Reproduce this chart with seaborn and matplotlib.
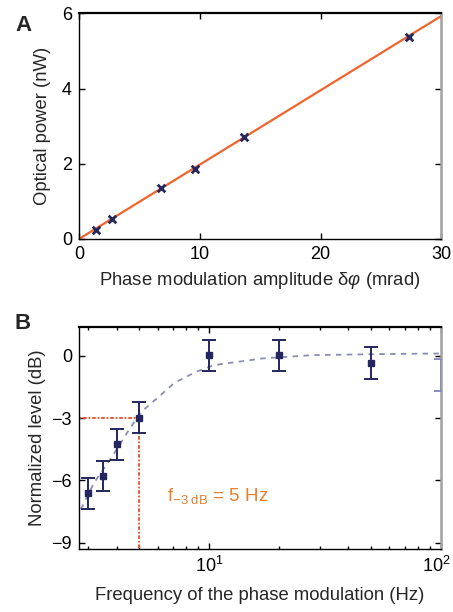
import matplotlib
matplotlib.use('Agg')
import matplotlib.pyplot as plt
import matplotlib.ticker as mticker
import matplotlib.transforms as mtransforms
import numpy as np
import pandas as pd
import seaborn as sns

# panel A: optical power vs phase modulation amplitude
amp_mrad = [1.4, 2.7, 6.8, 9.6, 13.7, 27.3]
power_nw = [0.25, 0.52, 1.36, 1.86, 2.72, 5.38]
fit_amp = [0, 30]
fit_power = [0, 5.93]

# panel B: normalized level vs modulation frequency
freq_hz = [3.0, 3.5, 4.0, 5.0, 10, 20, 50, 100]
level_db = [-6.63, -5.78, -4.27, -2.98, 0.02, 0.03, -0.35, -0.93]
level_err = [0.75, 0.72, 0.75, 0.75, 0.75, 0.75, 0.77, 0.76]
curve_freq = [2.8, 3.2, 3.8, 4.5, 5.1, 5.9, 7.1, 8.7, 10.5, 17, 28, 55, 100]
curve_db = [-7.4, -6.1, -4.9, -3.6, -2.7, -2.1, -1.3, -0.8, -0.45, -0.13, 0.03, 0.08, 0.11]
f3db = 5.0

NAVY = '#24265f'
ORANGE = '#f0642d'
RED = '#ee4a2a'
TXT_OR = '#e8802e'
CURVE = '#8a8db3'

sns.set_theme(style='ticks')
plt.rcParams['font.family'] = ['Liberation Sans', 'DejaVu Sans']
plt.rcParams['mathtext.fontset'] = 'custom'
plt.rcParams['mathtext.rm'] = 'Liberation Sans'
plt.rcParams['mathtext.it'] = 'Liberation Sans:italic'

LABEL_FS = 13.3
TICK_FS = 13

fig = plt.figure(figsize=(4.53, 6.12), dpi=100)
ax_a = fig.add_axes([0.1744, 0.6095, 0.800, 0.3688])
ax_b = fig.add_axes([0.1744, 0.1025, 0.7985, 0.3637])


def style_axes(ax):
    for side in ['left', 'bottom']:
        ax.spines[side].set_color('black')
        ax.spines[side].set_linewidth(1.0)
    ax.spines['top'].set_color('black')
    ax.spines['top'].set_linewidth(1.6)
    ax.spines['right'].set_color('#a0a0a0')
    ax.spines['right'].set_linewidth(1.8)
    ax.tick_params(which='both', direction='in', top=True, right=True,
                   labelsize=TICK_FS, colors='black', width=1.0)
    ax.tick_params(which='major', length=4, pad=5)
    ax.tick_params(which='minor', length=2.5)


# ---- A ----
df_a = pd.DataFrame({'amp': amp_mrad, 'power': power_nw})
sns.lineplot(x=fit_amp, y=fit_power, ax=ax_a, color=ORANGE, lw=1.6)
sns.scatterplot(data=df_a, x='amp', y='power', ax=ax_a, marker='x', s=30,
                color=NAVY, linewidth=2, zorder=3)
ax_a.set_xlim(0, 30)
ax_a.set_ylim(0, 6)
ax_a.set_xticks([0, 10, 20, 30])
ax_a.set_yticks([0, 2, 4, 6])
ax_a.set_xlabel(r'Phase modulation amplitude δ$\varphi$ (mrad)', fontsize=LABEL_FS, labelpad=5)
ax_a.set_ylabel('Optical power (nW)', fontsize=LABEL_FS, labelpad=8)
style_axes(ax_a)

# ---- B ----
df_b = pd.DataFrame({'f': curve_freq, 'db': curve_db})
sns.lineplot(data=df_b, x='f', y='db', ax=ax_b, color=CURVE, lw=1.3,
             linestyle=(0, (3, 3)))
ax_b.errorbar(freq_hz[:-1], level_db[:-1], yerr=level_err[:-1], fmt='s', ms=5,
              color=NAVY, ecolor=NAVY, elinewidth=1.4, capsize=4.7, capthick=1.4, zorder=4)
ax_b.errorbar(freq_hz[-1:], level_db[-1:], yerr=level_err[-1:], fmt='none',
              ecolor='#8a8cc0', elinewidth=1.4, capsize=4.7, capthick=1.4, zorder=4)
ax_b.plot([2.0, f3db], [-3, -3], color=RED, lw=1.3, linestyle=(0, (2, 1, 1, 1)), zorder=2)
ax_b.plot([f3db, f3db], [-3, -12], color=RED, lw=1.3, linestyle=(0, (2, 1, 1, 1)), zorder=2)
ax_b.text(6.6, -6.75, r'f$_{\mathregular{-3\ dB}}$ = 5 Hz', color=TXT_OR, fontsize=13.5,
          va='center', ha='left')
ax_b.set_xscale('log')
ax_b.set_xlim(2.75, 100)
ax_b.set_ylim(-9.32, 1.4)
ax_b.set_yticks([-9, -6, -3, 0])
ax_b.set_yticklabels(['\u22129', '\u22126', '\u22123', '0'])
ax_b.xaxis.set_major_locator(mticker.LogLocator(base=10, numticks=5))
ax_b.xaxis.set_minor_locator(mticker.LogLocator(base=10, subs=np.arange(2, 10), numticks=10))
ax_b.xaxis.set_minor_formatter(mticker.NullFormatter())
ax_b.set_xlabel('Frequency of the phase modulation (Hz)', fontsize=LABEL_FS, labelpad=8)
ax_b.set_ylabel('Normalized level (dB)', fontsize=LABEL_FS, labelpad=4)
style_axes(ax_b)

# keep the 10^2 label inside the canvas
fig.canvas.draw()
shift = mtransforms.ScaledTranslation(-4 / 100, 0, fig.dpi_scale_trans)
for tick in ax_b.xaxis.get_major_ticks():
    if abs(tick.get_loc() - 100) < 1e-6:
        tick.label1.set_transform(tick.label1.get_transform() + shift)

fig.text(0.033, 0.975, 'A', fontsize=16, fontweight='bold', va='top', ha='left')
fig.text(0.033, 0.488, 'B', fontsize=16, fontweight='bold', va='top', ha='left')

fig.savefig('out.png', dpi=100)
